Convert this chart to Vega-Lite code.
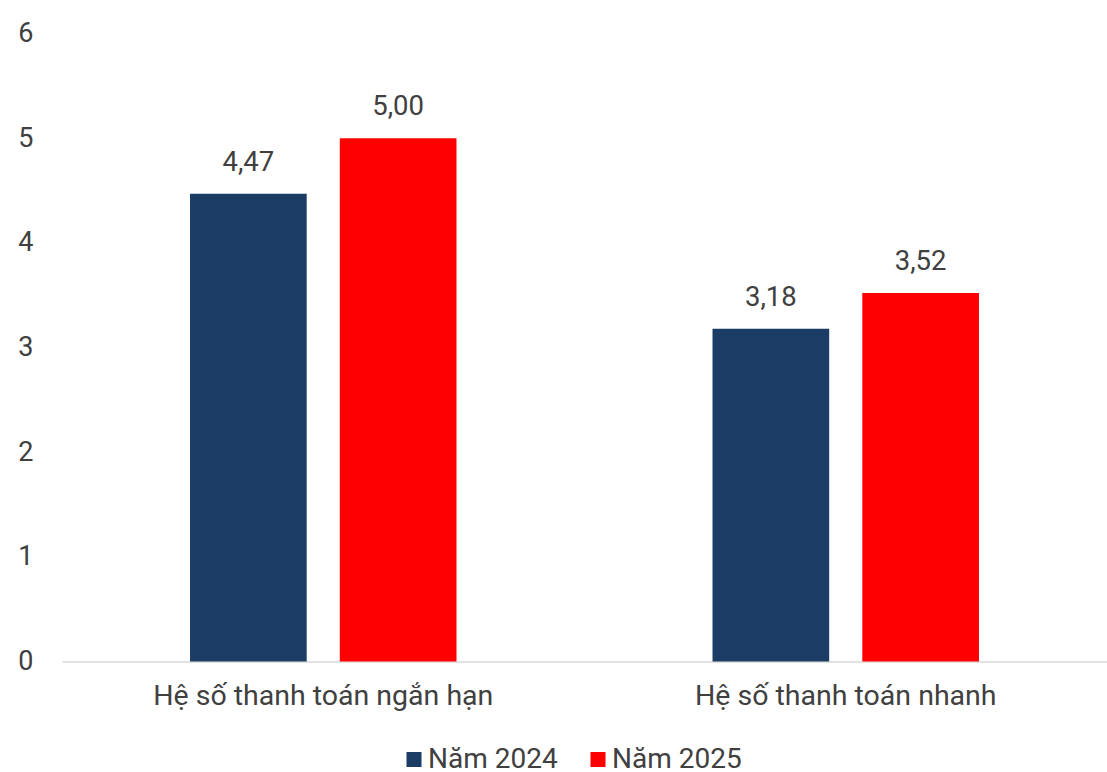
{
  "$schema": "https://vega.github.io/schema/vega-lite/v6.json",
  "width": 1045,
  "height": 628,
  "autosize": {"type": "none"},
  "padding": {"left": 62, "top": 33.5, "right": 0, "bottom": 110.5},
  "background": "#ffffff",
  "config": {
    "locale": {
      "number": {"decimal": ",", "thousands": ".", "grouping": [3], "currency": ["", " đ"]}
    },
    "view": {"stroke": null},
    "font": "Roboto",
    "text": {"font": "Roboto"}
  },
  "data": {
    "values": [
      {"chi_so": "Hệ số thanh toán ngắn hạn", "nam": "Năm 2024", "gia_tri": 4.47},
      {"chi_so": "Hệ số thanh toán ngắn hạn", "nam": "Năm 2025", "gia_tri": 5.00},
      {"chi_so": "Hệ số thanh toán nhanh", "nam": "Năm 2024", "gia_tri": 3.18},
      {"chi_so": "Hệ số thanh toán nhanh", "nam": "Năm 2025", "gia_tri": 3.52}
    ]
  },
  "encoding": {
    "x": {
      "field": "chi_so",
      "type": "nominal",
      "sort": null,
      "scale": {"paddingInner": 0.49, "paddingOuter": 0.245},
      "axis": {
        "title": null,
        "labelAngle": 0,
        "labelFont": "Roboto",
        "labelFontSize": 28.5,
        "labelColor": "#404040",
        "labelPadding": 20,
        "labelLimit": 0,
        "ticks": false,
        "domainColor": "#d9d9d9",
        "domainWidth": 1.5,
        "grid": false
      }
    },
    "xOffset": {
      "field": "nam",
      "type": "nominal",
      "sort": ["Năm 2024", "Năm 2025"],
      "scale": {"paddingInner": 0.221, "paddingOuter": 0}
    },
    "y": {
      "field": "gia_tri",
      "type": "quantitative",
      "scale": {"domain": [0, 6], "nice": false},
      "axis": {
        "title": null,
        "values": [0, 1, 2, 3, 4, 5, 6],
        "format": "d",
        "labelFont": "Roboto",
        "labelFontSize": 27,
        "labelColor": "#404040",
        "labelPadding": 29,
        "ticks": false,
        "domain": false,
        "grid": false
      }
    }
  },
  "layer": [
    {
      "mark": {"type": "bar"},
      "encoding": {
        "color": {
          "field": "nam",
          "type": "nominal",
          "sort": ["Năm 2024", "Năm 2025"],
          "scale": {"domain": ["Năm 2024", "Năm 2025"], "range": ["#1b3c65", "#ff0000"]},
          "legend": {
            "title": null,
            "orient": "none",
            "direction": "horizontal",
            "legendX": 338,
            "legendY": 712,
            "symbolType": "square",
            "symbolSize": 225,
            "symbolStrokeWidth": 0,
            "symbolOpacity": 1,
            "labelFont": "Roboto",
            "labelFontSize": 28,
            "labelColor": "#404040",
            "labelOffset": 0,
            "labelLimit": 0,
            "columnPadding": 26
          }
        }
      }
    },
    {
      "mark": {
        "type": "text",
        "baseline": "alphabetic",
        "align": "center",
        "dy": -23,
        "font": "Roboto",
        "fontSize": 27.5,
        "color": "#404040"
      },
      "encoding": {
        "text": {"field": "gia_tri", "type": "quantitative", "format": ".2f"}
      }
    }
  ]
}
